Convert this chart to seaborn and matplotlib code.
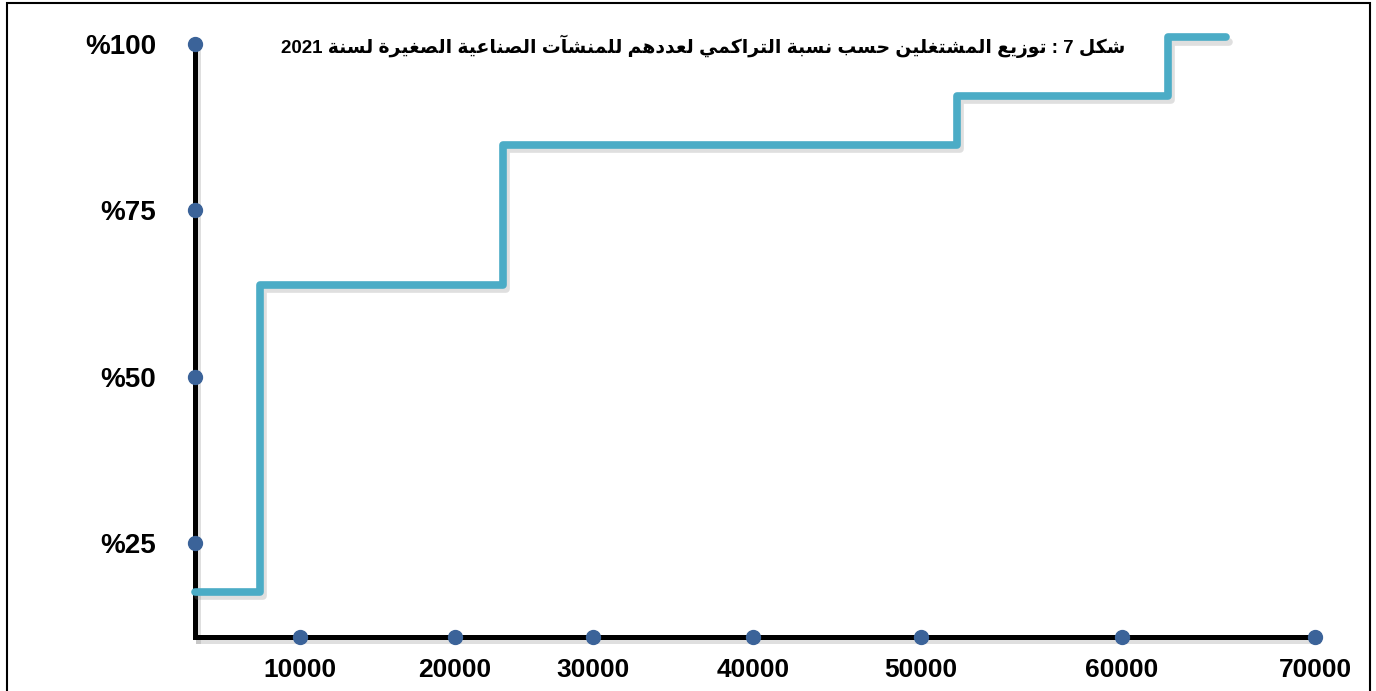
import re
import numpy as np
import pandas as pd
import matplotlib
matplotlib.use('Agg')
import matplotlib.pyplot as plt
import matplotlib.patheffects as pe
from matplotlib.patches import Rectangle
import seaborn as sns

# cumulative share of workers by establishment size
workers = [0, 6200, 23500, 51800, 62400, 65400]
cum_share = [17.6, 63.8, 84.8, 92.2, 101.0, 101.0]

x_ticks = [10000, 20000, 30000, 40000, 50000, 60000, 70000]
x_labels = ['10000', '20000', '30000', '40000', '50000', '60000', '70000']
y_ticks = [25, 50, 75, 100]
y_labels = ['%25', '%50', '%75', '%100']

title = 'شكل 7 : توزيع المشتغلين حسب نسبة التراكمي لعددهم للمنشآت الصناعية الصغيرة لسنة 2021'

# matplotlib does no arabic shaping, so use presentation forms + reverse
FORMS = {
    'ا': (0xFE8D, 0xFE8E, None, None),
    'آ': (0xFE81, 0xFE82, None, None),
    'ب': (0xFE8F, 0xFE90, 0xFE91, 0xFE92),
    'ة': (0xFE93, 0xFE94, None, None),
    'ت': (0xFE95, 0xFE96, 0xFE97, 0xFE98),
    'ح': (0xFEA1, 0xFEA2, 0xFEA3, 0xFEA4),
    'د': (0xFEA9, 0xFEAA, None, None),
    'ر': (0xFEAD, 0xFEAE, None, None),
    'ز': (0xFEAF, 0xFEB0, None, None),
    'س': (0xFEB1, 0xFEB2, 0xFEB3, 0xFEB4),
    'ش': (0xFEB5, 0xFEB6, 0xFEB7, 0xFEB8),
    'ص': (0xFEB9, 0xFEBA, 0xFEBB, 0xFEBC),
    'ع': (0xFEC9, 0xFECA, 0xFECB, 0xFECC),
    'غ': (0xFECD, 0xFECE, 0xFECF, 0xFED0),
    'ك': (0xFED9, 0xFEDA, 0xFEDB, 0xFEDC),
    'ل': (0xFEDD, 0xFEDE, 0xFEDF, 0xFEE0),
    'م': (0xFEE1, 0xFEE2, 0xFEE3, 0xFEE4),
    'ن': (0xFEE5, 0xFEE6, 0xFEE7, 0xFEE8),
    'ه': (0xFEE9, 0xFEEA, 0xFEEB, 0xFEEC),
    'و': (0xFEED, 0xFEEE, None, None),
    'ي': (0xFEF1, 0xFEF2, 0xFEF3, 0xFEF4),
}


def shape(text):
    out = []
    for i, ch in enumerate(text):
        if ch not in FORMS:
            out.append(ch)
            continue
        iso, fin, ini, med = FORMS[ch]
        prev = text[i - 1] if i > 0 else ''
        nxt = text[i + 1] if i + 1 < len(text) else ''
        join_prev = prev in FORMS and FORMS[prev][2] is not None
        join_next = nxt in FORMS and ini is not None
        if join_prev and join_next:
            code = med
        elif join_prev:
            code = fin
        elif join_next:
            code = ini
        else:
            code = iso
        out.append(chr(code))
    parts = re.findall(r'[0-9]+|[^0-9]+', ''.join(out))
    return ''.join(p if p.isdigit() else p[::-1] for p in reversed(parts))


sns.set_style('white')
plt.rcParams['font.family'] = ['Liberation Sans', 'DejaVu Sans']
plt.rcParams['font.weight'] = 'bold'
plt.rcParams['text.color'] = 'black'

fig = plt.figure(figsize=(13.76, 6.91), dpi=100)
ax = fig.add_axes([0.1417, 0.0781, 0.8140, 0.8774])

# the original x axis is spaced unevenly; follow it with a piecewise scale
scale_vals = [0] + x_ticks
scale_px = [195, 300, 455, 593, 753, 921, 1122, 1315]
ax.set_xscale('function', functions=(
    lambda v: np.interp(v, scale_vals, scale_px),
    lambda p: np.interp(p, scale_px, scale_vals)))

df = pd.DataFrame({'workers': workers, 'share': cum_share})
shadow = [pe.SimpleLineShadow(offset=(2, -3), shadow_color='gray', alpha=0.25), pe.Normal()]
sns.lineplot(data=df, x='workers', y='share', drawstyle='steps-post',
             color='#4BACC6', linewidth=5.5, ax=ax, clip_on=False,
             path_effects=shadow, zorder=3)

ax.set_xlim(0, 70000)
ax.set_ylim(10.87, 102)

for side in ['top', 'right']:
    ax.spines[side].set_visible(False)
for side in ['left', 'bottom']:
    ax.spines[side].set_color('black')
    ax.spines[side].set_linewidth(3.6)
    ax.spines[side].set_path_effects(shadow)
ax.spines['left'].set_bounds(10.87, 100)
ax.spines['bottom'].set_bounds(0, 70000)

# tick dots on the axes
ax.scatter(x_ticks, [10.87] * len(x_ticks), s=100, color='#3B6399',
           clip_on=False, zorder=5)
ax.scatter([0] * len(y_ticks), y_ticks, s=100, color='#3B6399',
           clip_on=False, zorder=5)

ax.set_xticks(x_ticks)
ax.set_xticklabels(x_labels, fontsize=19, fontweight='bold')
ax.set_yticks(y_ticks)
ax.set_yticklabels(y_labels, fontsize=20, fontweight='bold')
ax.tick_params(axis='x', length=0, pad=15, labelcolor='black')
ax.tick_params(axis='y', length=0, pad=28, labelcolor='black')
ax.set_xlabel('')
ax.set_ylabel('')

fig.text(0.511, 0.933, shape(title), ha='center', va='center',
         fontsize=13.5, fontweight='bold', color='black')

fig.patches.append(Rectangle((7 / 1376, -0.02), 1363 / 1376, 1.02 - 3 / 691,
                             transform=fig.transFigure, fill=False,
                             edgecolor='black', linewidth=1.5))

fig.savefig('out.png', dpi=100)
